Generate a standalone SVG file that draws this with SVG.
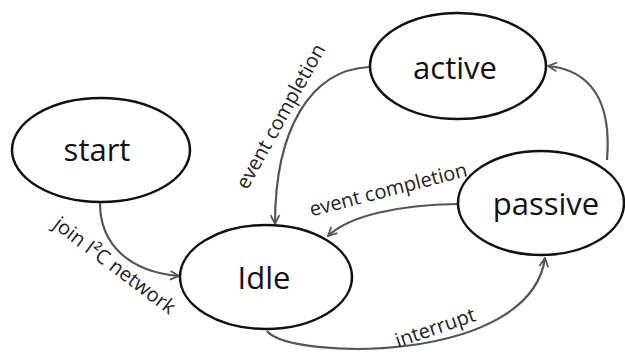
<svg xmlns="http://www.w3.org/2000/svg" width="625" height="356" viewBox="0 0 625 356">
<style>
.node ellipse{fill:#fff;stroke:#111;stroke-width:2.5}
.node text{font-family:"Open Sans","Liberation Sans",sans-serif;font-size:31px;font-weight:500;fill:#111;text-anchor:middle;dominant-baseline:central}
.edge{fill:none;stroke:#555;stroke-width:2.2;marker-end:url(#arr)}
.lbl{font-family:"Open Sans","Liberation Sans",sans-serif;font-size:20px;fill:#222;text-anchor:middle;dominant-baseline:central}
</style>
<defs>
<marker id="arr" viewBox="0 0 10 10" refX="9" refY="5" markerWidth="5" markerHeight="5" orient="auto" markerUnits="strokeWidth">
<path d="M1,1 L9,5 L1,9" fill="none" stroke="#555" stroke-width="1.6"/>
</marker>
</defs>
<rect width="625" height="356" fill="#fff"/>
<g id="connectors">
<path class="edge" d="M100,203 C100,245 130,272 179,276"/>
<path class="edge" d="M369,67 C310,70 275,130 275,224"/>
<path class="edge" d="M457,204 C400,205 350,215 328,236"/>
<path class="edge" d="M607,160 C612,100 590,70 548,66"/>
<path class="edge" d="M267,331 C290,360 530,365 545,258"/>
<text class="lbl" transform="translate(115,265) rotate(37)">join I²C network</text>
<text class="lbl" transform="translate(280,116) rotate(-61)">event completion</text>
<text class="lbl" transform="translate(388,189) rotate(-14.5)">event completion</text>
<text class="lbl" transform="translate(435,327) rotate(-19)">interrupt</text>
</g>
<g id="start" class="node"><ellipse cx="101" cy="150" rx="89" ry="52"/><text x="97" y="149">start</text></g>
<g id="idle" class="node"><ellipse cx="266" cy="277" rx="86" ry="52"/><text x="264" y="277">Idle</text></g>
<g id="active" class="node"><ellipse cx="458" cy="66" rx="88" ry="53"/><text x="455" y="67">active</text></g>
<g id="passive" class="node"><ellipse cx="541" cy="203" rx="83" ry="52"/><text x="546" y="203">passive</text></g>
</svg>
